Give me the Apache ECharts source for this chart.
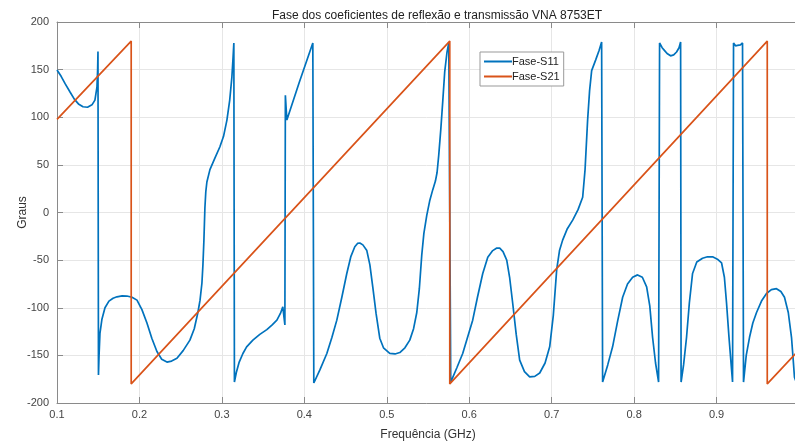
<!DOCTYPE html>
<html>
<head>
<meta charset="utf-8">
<script src="https://cdn.jsdelivr.net/npm/echarts@6/dist/echarts.min.js"></script>
<style>html,body{margin:0;padding:0;background:#fff;}#c{width:795px;height:445px;}</style>
</head>
<body>
<div id="c"></div>
<script>
const titleText = 'Fase dos coeficientes de reflexão e transmissão VNA 8753ET';
const xLabel = 'Frequência (GHz)';
const yLabel = 'Graus';
const seriesNames = ['Fase-S11', 'Fase-S21'];

const s11Freq = [
  0.1000,0.1050,0.1100,0.1158,0.1210,0.1260,0.1315,0.1370,0.1424,0.1460,0.1485,0.1493,0.1497,
  0.1503,0.1510,0.1521,0.1545,0.1582,0.1630,0.1680,0.1727,0.1790,0.1848,0.1910,0.1970,0.2030,0.2091,0.2150,0.2212,0.2270,0.2333,0.2390,0.2455,0.2530,0.2612,0.2665,0.2709,0.2735,0.2758,0.2770,0.2782,0.2794,0.2805,0.2818,0.2855,0.2915,0.2976,0.3020,0.3061,0.3095,0.3121,0.3135,0.3145,
  0.3152,0.3175,0.3210,0.3255,0.3300,0.3376,0.3460,0.3545,0.3610,0.3667,0.3710,0.3739,0.3750,0.3764,
  0.3770,0.3788,0.3940,0.4103,
  0.4115,0.4190,0.4273,0.4335,0.4394,0.4455,0.4515,0.4565,0.4612,0.4645,0.4673,0.4710,0.4758,0.4795,0.4830,0.4870,0.4915,0.4960,0.5036,0.5100,0.5158,0.5220,0.5279,0.5325,0.5364,0.5395,0.5424,0.5450,0.5485,0.5520,0.5558,0.5590,0.5610,0.5630,0.5655,0.5680,0.5703,0.5730,0.5752,
  0.5776,0.5850,0.5921,0.5980,0.6042,0.6100,0.6164,0.6225,0.6285,0.6330,0.6370,0.6410,0.6455,0.6490,0.6527,0.6570,0.6612,0.6670,0.6733,0.6795,0.6855,0.6920,0.6976,0.7020,0.7061,0.7095,0.7133,0.7190,0.7255,0.7320,0.7376,0.7405,0.7436,0.7460,0.7485,0.7533,0.7575,0.7606,
  0.7618,0.7680,0.7739,0.7800,0.7861,0.7920,0.7982,0.8042,0.8100,0.8152,0.8190,0.8224,0.8260,0.8297,
  0.8309,0.8340,0.8370,0.8400,0.8442,0.8480,0.8515,0.8545,0.8564,
  0.8570,0.8600,0.8636,0.8670,0.8709,0.8760,0.8830,0.8890,0.8952,0.9010,0.9061,0.9095,0.9121,0.9150,0.9182,0.9194,
  0.9206,0.9230,0.9255,0.9290,0.9315,
  0.9327,0.9360,0.9400,0.9440,0.9485,0.9545,0.9606,0.9665,0.9727,0.9780,0.9824,0.9870,0.9909,0.9930,0.9945,0.9970
];
const s11Phase = [
  149.6,143,135,126.5,119,114,111,110.5,113,118,132,150,169,
  -170.6,-150,-127,-112,-100,-93,-90,-88.5,-87.5,-87.7,-89,-92,-102,-116,-132,-146,-154,-157,-156,-153,-145,-134,-122,-105,-92,-74,-55,-29,5,22,32,45,57,69,80,97,118,142,162,178,
  -178,-168,-157,-148,-141,-134,-128,-123,-118,-113,-106,-99,-100,-118,
  123,97,137,178,
  -179,-165,-148,-131,-113,-89,-64,-46,-36,-32.5,-32,-34,-40,-55,-78,-106,-132,-142,-148,-148.5,-147,-142,-134,-122,-105,-80,-45,-22,-3,12,24,33,42,60,87,118,148,168,178,
  -178,-163,-148,-131,-113,-89,-64,-47,-40,-37.5,-37.5,-41,-50,-68,-95,-128,-155,-167,-172.5,-172,-168.5,-158,-141,-108,-60,-40,-29,-17,-8,3,16,45,97,128,149,160,170,179,
  -178,-160,-141,-114,-89,-75,-68,-65.5,-68,-78,-98,-131,-158,-178,
  178,173,170,167,164.5,165.5,168.5,173,179,
  -178,-160,-131,-95,-64,-52,-48,-46.5,-46.5,-49,-53,-68,-95,-130,-165,-178,
  178,175,175.5,176,178,
  -178,-150,-131,-116,-105,-93,-85,-81,-80,-83,-89,-105,-131,-155,-173,-179
];

const s21Freq = [0.1000,0.1900,0.1900,0.5764,0.5764,0.9615,0.9615,1.0000];
const s21Phase = [97.8,180.0,-180.0,180.0,-180.0,180.0,-180.0,-144.3];

const xTicks = {min: 0.1, max: 1.0, interval: 0.1};
const yTicks = {min: -200, max: 200, interval: 50};

const s11Data = s11Freq.map((f, i) => [f, s11Phase[i]]);
const s21Data = s21Freq.map((f, i) => [f, s21Phase[i]]);

const FONT = 'Liberation Sans, Arial, sans-serif';
const AX = '#8a8a8a';
const chart = echarts.init(document.getElementById('c'), null, {renderer: 'canvas'});
chart.setOption({
  animation: false,
  backgroundColor: '#ffffff',
  title: {
    text: titleText,
    left: 432, top: 5, textAlign: 'center',
    textStyle: {fontFamily: FONT, fontSize: 12, fontWeight: 'normal', color: '#222'}
  },
  legend: {
    data: seriesNames,
    orient: 'vertical',
    left: 480, top: 52,
    icon: 'rect',
    backgroundColor: '#fff',
    borderColor: '#999', borderWidth: 1, borderRadius: 0,
    padding: [3, 4, 3, 4],
    itemWidth: 28, itemHeight: 2, itemGap: 2,
    textStyle: {fontFamily: FONT, fontSize: 11, lineHeight: 13, color: '#222', padding: [0, 0, 0, -5]}
  },
  grid: {left: 57, top: 22, width: 742, height: 381, containLabel: false, outerBoundsMode: 'none'},
  xAxis: [{
    type: 'value', min: xTicks.min, max: xTicks.max, interval: xTicks.interval,
    name: xLabel, nameLocation: 'middle', nameGap: 26, nameMoveOverlap: false,
    nameTextStyle: {fontFamily: FONT, fontSize: 12, color: '#333'},
    axisLine: {show: true, onZero: false, lineStyle: {color: AX, width: 1}},
    axisTick: {show: true, inside: true, length: 6, lineStyle: {color: AX}},
    axisLabel: {fontFamily: FONT, fontSize: 11, color: '#444', margin: 6,
      formatter: v => (Math.round(v * 10) / 10).toString()},
    splitLine: {show: true, lineStyle: {color: '#e6e6e6', width: 1}}
  }, {
    type: 'value', position: 'top', min: xTicks.min, max: xTicks.max, interval: xTicks.interval,
    axisLine: {show: true, onZero: false, lineStyle: {color: AX, width: 1}},
    axisTick: {show: true, inside: true, length: 6, lineStyle: {color: AX}},
    axisLabel: {show: false}, splitLine: {show: false}
  }],
  yAxis: {
    type: 'value', min: yTicks.min, max: yTicks.max, interval: yTicks.interval,
    name: yLabel, nameLocation: 'middle', nameGap: 28, nameMoveOverlap: false,
    nameTextStyle: {fontFamily: FONT, fontSize: 12, color: '#333'},
    axisLine: {show: true, onZero: false, lineStyle: {color: AX, width: 1}},
    axisTick: {show: true, inside: true, length: 6, lineStyle: {color: AX}},
    axisLabel: {fontFamily: FONT, fontSize: 11, color: '#444', margin: 8},
    splitLine: {show: true, lineStyle: {color: '#e6e6e6', width: 1}}
  },
  series: [{
    name: seriesNames[0], type: 'line', data: s11Data, symbol: 'none', smooth: false,
    lineStyle: {color: '#0072BD', width: 1.7}, itemStyle: {color: '#0072BD'}
  }, {
    name: seriesNames[1], type: 'line', data: s21Data, symbol: 'none',
    lineStyle: {color: '#D95319', width: 1.7}, itemStyle: {color: '#D95319'}
  }]
});
</script>
</body>
</html>
